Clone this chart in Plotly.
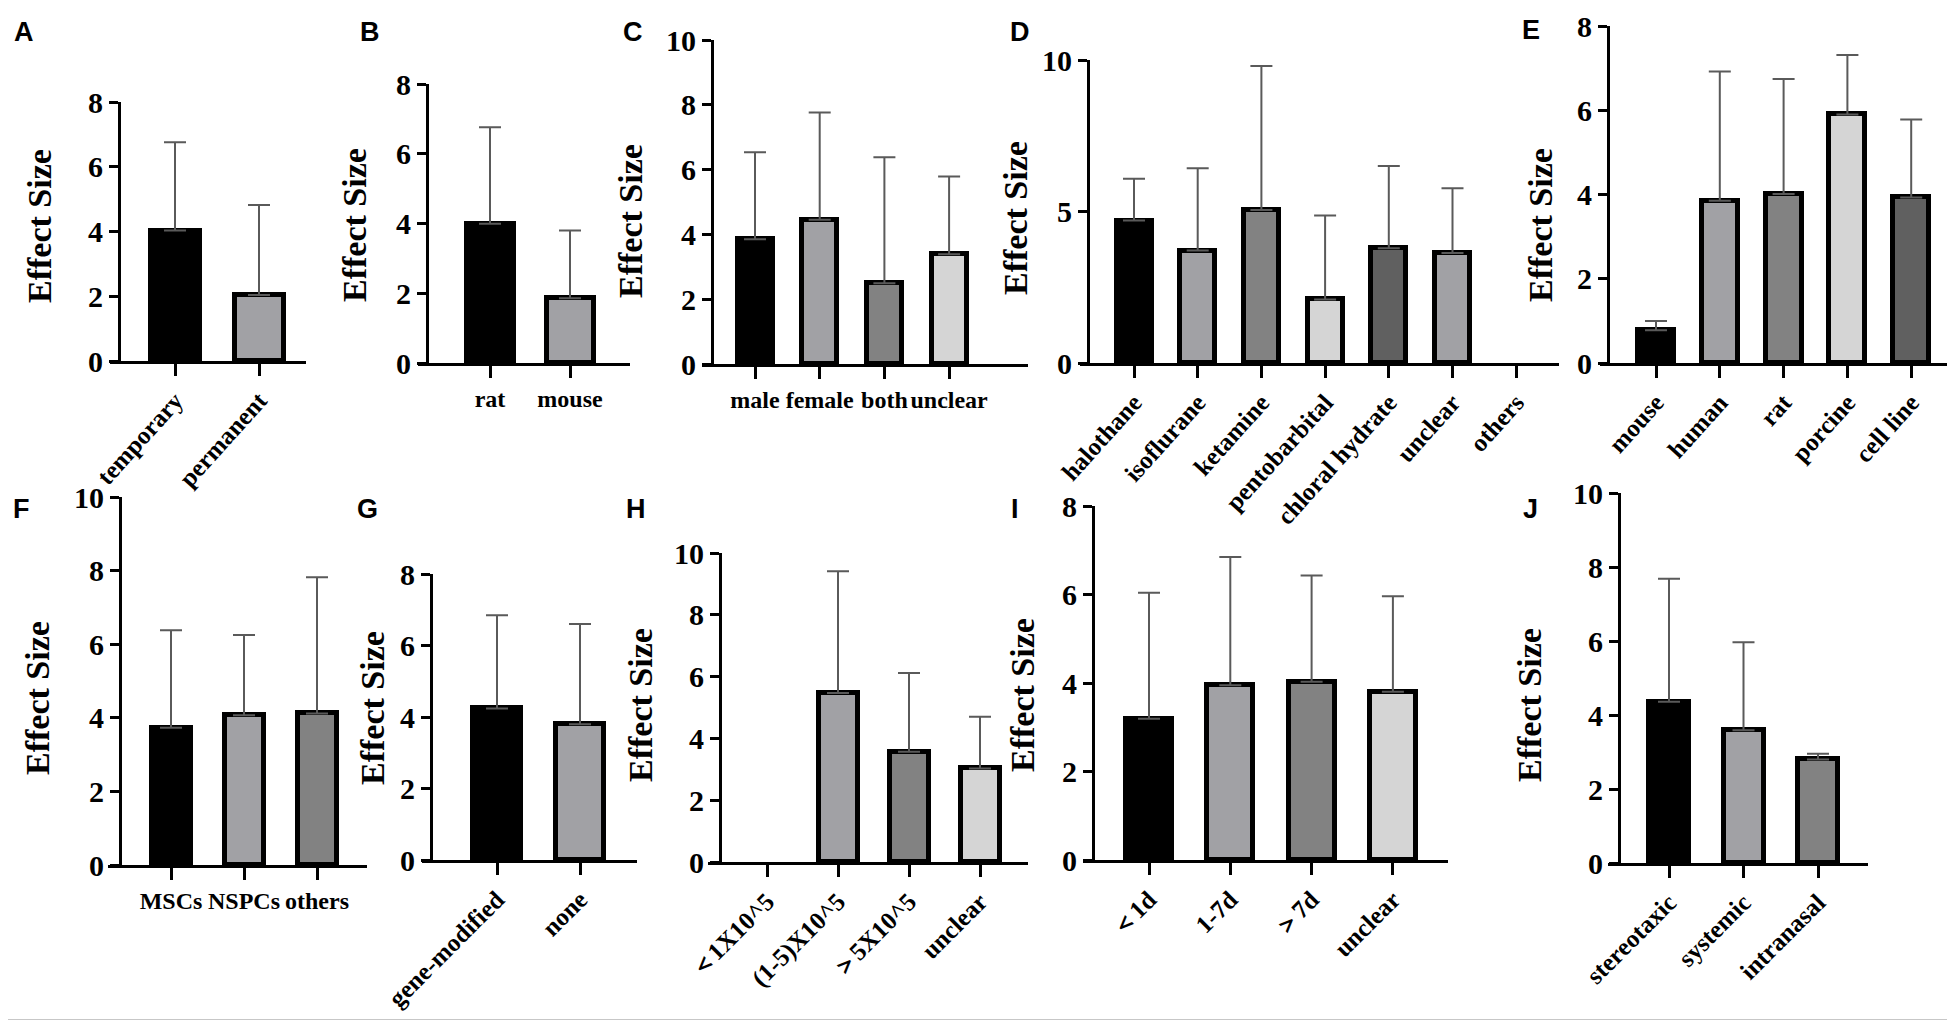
import plotly.graph_objects as go

W, H = 1955, 1020

BLACK, LGRAY, MGRAY, PALE, DGRAY = "#000000", "#a1a1a5", "#828282", "#d5d5d5", "#606060"

# A - occlusion type
a_labels = ["temporary", "permanent"]
a_means = [4.03, 2.04]
a_upper = [6.76, 4.82]

# B - species
b_labels = ["rat", "mouse"]
b_means = [3.99, 1.86]
b_upper = [6.76, 3.80]

# C - sex
c_labels = ["male", "female", "both", "unclear"]
c_means = [3.85, 4.45, 2.49, 3.39]
c_upper = [6.54, 7.76, 6.38, 5.79]

# D - anaesthesia
d_labels = ["halothane", "isoflurane", "ketamine", "pentobarbital", "chloral hydrate", "unclear", "others"]
d_means = [4.70, 3.71, 5.05, 2.10, 3.79, 3.63, None]
d_upper = [6.08, 6.43, 9.80, 4.87, 6.50, 5.77, None]

# E - cell source
e_labels = ["mouse", "human", "rat", "porcine", "cell line"]
e_means = [0.78, 3.85, 4.01, 5.90, 3.93]
e_upper = [1.00, 6.92, 6.74, 7.31, 5.78]

# F - cell type
f_labels = ["MSCs", "NSPCs", "others"]
f_means = [3.73, 4.07, 4.12]
f_upper = [6.38, 6.25, 7.82]

# G - modification
g_labels = ["gene-modified", "none"]
g_means = [4.24, 3.80]
g_upper = [6.85, 6.60]

# H - cell dose
h_labels = ["＜1X10^5", "(1-5)X10^5", "＞5X10^5", "unclear"]
h_means = [None, 5.47, 3.57, 3.03]
h_upper = [None, 9.41, 6.12, 4.70]

# I - time of transplantation
i_labels = ["＜1d", "1-7d", "＞7d", "unclear"]
i_means = [3.19, 3.95, 4.03, 3.80]
i_upper = [6.04, 6.85, 6.43, 5.96]

# J - route
j_labels = ["stereotaxic", "systemic", "intranasal"]
j_means = [4.36, 3.59, 2.80]
j_upper = [7.68, 5.97, 2.95]

panels = [
    # letter, labels, means, upper, colors, ymax, dtick, tickangle
    ("A", a_labels, a_means, a_upper, [BLACK, LGRAY], 8, 2, -48),
    ("B", b_labels, b_means, b_upper, [BLACK, LGRAY], 8, 2, 0),
    ("C", c_labels, c_means, c_upper, [BLACK, LGRAY, MGRAY, PALE], 10, 2, 0),
    ("D", d_labels, d_means, d_upper, [BLACK, LGRAY, MGRAY, PALE, DGRAY, LGRAY, LGRAY], 10, 5, -48),
    ("E", e_labels, e_means, e_upper, [BLACK, LGRAY, MGRAY, PALE, DGRAY], 8, 2, -48),
    ("F", f_labels, f_means, f_upper, [BLACK, LGRAY, MGRAY], 10, 2, 0),
    ("G", g_labels, g_means, g_upper, [BLACK, LGRAY], 8, 2, -45),
    ("H", h_labels, h_means, h_upper, [LGRAY, LGRAY, MGRAY, PALE], 10, 2, -45),
    ("I", i_labels, i_means, i_upper, [BLACK, LGRAY, MGRAY, PALE], 8, 2, -45),
    ("J", j_labels, j_means, j_upper, [BLACK, LGRAY, MGRAY], 10, 2, -45),
]

# pixel geometry: x-axis start, y-axis x, x-axis end, first tick, tick step,
# bar width, y of zero, y of top, letter (x, y), title (x, y)
geom = [
    (102, 111, 298, 167, 84, 54, 353, 94, (4, 7), (31, 218)),
    (410, 419, 622, 482, 80, 52, 355, 76, (350, 7), (346, 217)),
    (694, 704, 1020, 747, 64.7, 40, 356, 32, (613, 7), (622, 213)),
    (1072, 1080, 1551, 1126, 63.7, 40, 355, 52, (1000, 7), (1008, 210)),
    (1592, 1600, 1946, 1648, 63.8, 41, 355, 18, (1512, 5), (1532, 217)),
    (100, 112, 359, 163, 73, 44, 857, 489, (3, 484), (29, 690)),
    (414, 423, 629, 489, 83, 53, 852, 566, (347, 484), (364, 700)),
    (700, 712, 1020, 759, 71, 44, 854, 545, (616, 484), (632, 697)),
    (1075, 1085, 1440, 1141, 81.3, 51, 852, 498, (1001, 484), (1014, 687)),
    (1600, 1611, 1860, 1661, 74.5, 45, 855, 485, (1513, 484), (1521, 697)),
]

SERIF = "Liberation Serif, Times New Roman, serif"
SANS = "Liberation Sans, Arial, sans-serif"

fig = go.Figure()
annotations = []

for k, ((letter, labels, means, upper, colors, ymax, dtick, angle), g) in enumerate(zip(panels, geom), start=1):
    xl, ya, xr, t0, sp, bw, y0, ytop, (lx, ly), (tx, ty) = g
    n = len(labels)
    err = [None if m is None else u - m for m, u in zip(means, upper)]
    sfx = "" if k == 1 else str(k)

    fig.add_trace(go.Bar(
        x=list(range(n)), y=means,
        width=(bw - 5) / sp,
        marker=dict(color=colors[:n], line=dict(color="black", width=5)),
        error_y=dict(type="data", symmetric=False, array=err, arrayminus=[0] * n,
                     color="#5a5a5a", thickness=2, width=11),
        xaxis="x" + sfx, yaxis="y" + sfx,
        showlegend=False, hoverinfo="skip",
    ))

    fig.layout["xaxis" + sfx] = dict(
        domain=[xl / W, xr / W],
        range=[(xl - t0) / sp, (xr - t0) / sp],
        anchor="y" + sfx,
        tickmode="array", tickvals=list(range(n)), ticktext=labels,
        tickangle=angle,
        showline=True, linecolor="black", linewidth=3,
        ticks="outside", ticklen=12, tickwidth=3, tickcolor="black",
        tickfont=dict(family=SERIF, size=24 if angle == 0 else 25, color="black", weight="bold"),
        ticklabeloverflow="allow",
        showgrid=False, zeroline=False, fixedrange=True,
    )
    fig.layout["yaxis" + sfx] = dict(
        domain=[1 - y0 / H, 1 - ytop / H],
        range=[0, ymax + 0.001], tick0=0, dtick=dtick,
        anchor="free", position=ya / W,
        showline=True, linecolor="black", linewidth=3,
        ticks="outside", ticklen=9, tickwidth=3, tickcolor="black",
        tickfont=dict(family=SERIF, size=30, color="black", weight="bold"),
        ticklabeloverflow="allow",
        showgrid=False, zeroline=False, fixedrange=True,
    )

    annotations.append(dict(
        text=letter, x=lx / W, y=1 - ly / H, xref="paper", yref="paper",
        xanchor="left", yanchor="top", showarrow=False,
        font=dict(family=SANS, size=27, color="black", weight="bold"),
    ))
    annotations.append(dict(
        text="Effect Size", x=tx / W, y=1 - ty / H, xref="paper", yref="paper",
        xanchor="center", yanchor="middle", textangle=-90, showarrow=False,
        font=dict(family=SERIF, size=34, color="black", weight="bold"),
    ))

fig.update_layout(
    width=W, height=H,
    margin=dict(l=0, r=0, t=0, b=0),
    paper_bgcolor="white", plot_bgcolor="white",
    template="none",
    bargap=0,
    annotations=annotations,
    shapes=[dict(type="line", xref="paper", yref="paper", x0=0, x1=1,
                 y0=1 - 1013 / H, y1=1 - 1013 / H,
                 line=dict(color="#222222", width=2.5))],
)

fig.write_html("out.html")
